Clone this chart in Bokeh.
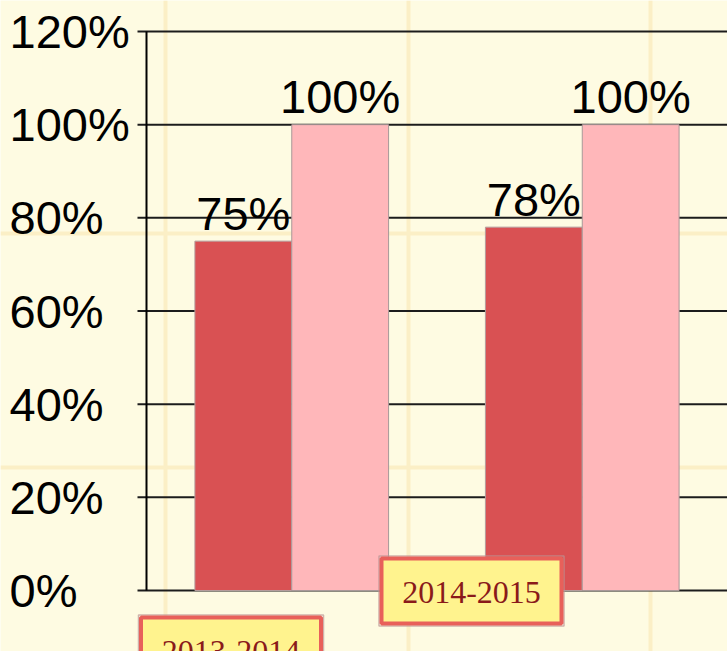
from bokeh.plotting import figure
from bokeh.models import Range1d, ColumnDataSource, Span
from bokeh.core.properties import value
from bokeh.embed import file_html
from bokeh.resources import INLINE

# ---- data ----
categories = ["2013-2014", "2014-2015"]
series_actual = [75, 78]
series_target = [100, 100]
y_ticks = [0, 20, 40, 60, 80, 100, 120]
y_tick_labels = ["0%", "20%", "40%", "60%", "80%", "100%", "120%"]

# ---- layout (pixels -> data units) ----
W, H = 727, 651
SLOT_PX = 290.5            # width of one category slot
AXIS_PX = 146              # screen x of the value axis
Y0_PX, Y120_PX = 590, 31   # screen y of 0% and 120%
PX_PER_Y = (Y0_PX - Y120_PX) / 120.0
X_START = -AXIS_PX / SLOT_PX
X_END = (W - AXIS_PX) / SLOT_PX
Y_START = -(H - Y0_PX) / PX_PER_Y
Y_END = 120 + Y120_PX / PX_PER_Y
TICK = 9 / SLOT_PX
BAR_W = 1 / 3

# ---- styles ----
BG = "#FEFBE2"
STRIPE = "#FBEFC6"
RED = "#D95153"
PINK = "#FFB7BA"
GRID = "#1c1c1c"
FONT = "Liberation Sans"
FSIZE = "47px"

p = figure(width=W, height=H, x_range=Range1d(X_START, X_END), y_range=Range1d(Y_START, Y_END),
           output_backend="svg", toolbar_location=None,
           x_axis_location=None, y_axis_location=None, min_border=0,
           background_fill_color=BG, border_fill_color=BG, outline_line_color=None)
p.xgrid.visible = False
p.ygrid.visible = False

# faint background texture stripes (decoration of the slide)
for px in [165, 408, 650]:
    p.add_layout(Span(location=(px - AXIS_PX) / SLOT_PX, dimension="height",
                      line_color=STRIPE, line_width=4, level="underlay"))
for py in [233, 467]:
    p.add_layout(Span(location=(Y0_PX - py) / PX_PER_Y, dimension="width",
                      line_color=STRIPE, line_width=4, level="underlay"))

# value axis: grid lines with outer ticks, and the axis line
p.segment(x0=-TICK, x1=X_END, y0=y_ticks, y1=y_ticks, line_color=GRID, line_width=2)
p.segment(x0=0, x1=0, y0=y_ticks[0], y1=y_ticks[-1], line_color="black", line_width=2)

p.text(x=0, y=y_ticks, text=y_tick_labels, x_offset=-137,
       text_align="left", text_baseline="middle",
       text_font=value(FONT), text_font_size=value(FSIZE), text_color="black")

# bars
centers = [i + 0.5 for i in range(len(categories))]
src = ColumnDataSource(dict(
    xa=[c - BAR_W / 2 for c in centers],
    xb=[c + BAR_W / 2 for c in centers],
    actual=series_actual,
    target=series_target,
    actual_lbl=[f"{v}%" for v in series_actual],
    target_lbl=[f"{v}%" for v in series_target],
))
p.vbar(x="xa", top="actual", bottom=0, width=BAR_W, source=src,
       fill_color=RED, line_color="#B59C9C", line_width=1)
p.vbar(x="xb", top="target", bottom=0, width=BAR_W, source=src,
       fill_color=PINK, line_color="#A89898", line_width=1)

for xcol, ycol, lcol in [("xa", "actual", "actual_lbl"), ("xb", "target", "target_lbl")]:
    p.text(x=xcol, y=ycol, text=lcol, source=src, y_offset=-28,
           text_align="center", text_baseline="alphabetic",
           text_font=value(FONT), text_font_size=value(FSIZE), text_color="black")

# category boxes, placed as on the reference slide
box_dx = [-60.75, -110.75]   # px from category centre
box_dy = [-59.5, -0.5]       # px above the 0% line
bsrc = ColumnDataSource(dict(
    x=[c + dx / SLOT_PX for c, dx in zip(centers, box_dx)],
    y=[dy / PX_PER_Y for dy in box_dy],
    t=categories,
))
p.rect(x="x", y="y", width=185, height=70, width_units="screen", height_units="screen",
       source=bsrc, fill_color=None, line_color="#B99494", line_width=1.5, line_alpha=0.7)
p.rect(x="x", y="y", width=180, height=65, width_units="screen", height_units="screen",
       source=bsrc, fill_color="#FFF38E", line_color="#E8605A", line_width=4)
p.text(x="x", y="y", text="t", source=bsrc, y_offset=1,
       text_align="center", text_baseline="middle",
       text_font=value("Liberation Serif"), text_font_size=value("32px"), text_color="#8A1A1A")

open("out.html", "w").write(file_html(p, INLINE))
